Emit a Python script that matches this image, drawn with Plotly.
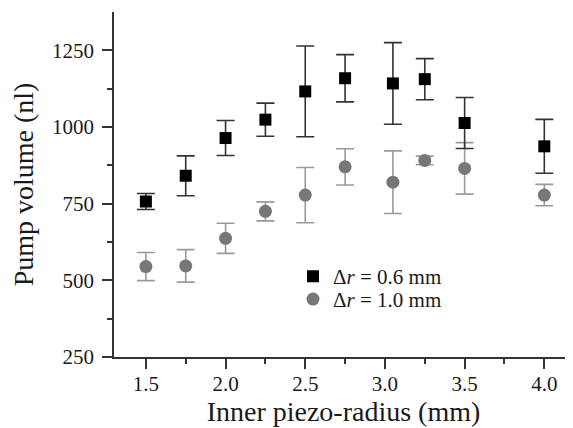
import plotly.graph_objects as go

radius = [1.5, 1.75, 2.0, 2.25, 2.5, 2.75, 3.05, 3.25, 3.5, 4.0]
vol_06 = [757, 841, 964, 1024, 1116, 1159, 1142, 1156, 1013, 937]
err_06 = [26, 65, 57, 54, 148, 77, 133, 67, 83, 88]
vol_10 = [545, 547, 637, 725, 778, 870, 820, 891, 865, 778]
err_10 = [46, 53, 49, 31, 90, 59, 102, 14, 84, 35]
name_06 = "Δ<i>r</i> = 0.6 mm"
name_10 = "Δ<i>r</i> = 1.0 mm"
x_ticks = [1.5, 2.0, 2.5, 3.0, 3.5, 4.0]
x_ticklabels = ["1.5", "2.0", "2.5", "3.0", "3.5", "4.0"]
y_ticks = [250, 500, 750, 1000, 1250]

FONT = "Liberation Serif"
AX = "#333333"

fig = go.Figure()
fig.add_trace(go.Scatter(
    x=radius, y=vol_10, mode="markers", name=name_10, legend="legend2",
    marker=dict(symbol="circle", size=13, color="#777777"),
    error_y=dict(type="data", array=err_10, visible=True, color="#9a9a9a",
                 thickness=1.6, width=9),
))
fig.add_trace(go.Scatter(
    x=radius, y=vol_06, mode="markers", name=name_06, legend="legend",
    marker=dict(symbol="square", size=12, color="#000000"),
    error_y=dict(type="data", array=err_06, visible=True, color="#333333",
                 thickness=1.6, width=9),
))

xr = [1.3, 4.18]
yr = [250, 1375]
# the page body adds an 8px offset, so the figure is 8px smaller than the window
fig.update_layout(
    width=565, height=420,
    margin=dict(l=106, r=0, t=4, b=71),
    paper_bgcolor="white", plot_bgcolor="white",
    font=dict(family=FONT, size=21, color="#1a1a1a"),
    showlegend=True,
    legend=dict(x=0.390, y=0.233, xanchor="left", yanchor="middle",
                bgcolor="rgba(0,0,0,0)", font=dict(size=21)),
    legend2=dict(x=0.390, y=0.167, xanchor="left", yanchor="middle",
                 bgcolor="rgba(0,0,0,0)", font=dict(size=21)),
    xaxis=dict(
        range=xr, tickvals=x_ticks, ticktext=x_ticklabels,
        ticks="outside", ticklen=10, tickwidth=1.5, tickcolor=AX,
        showline=True, linecolor=AX, linewidth=1.5, showgrid=False, zeroline=False,
        minor=dict(tickvals=[1.75, 2.25, 2.75, 3.25, 3.75], ticks="outside",
                   ticklen=5, tickwidth=1.5, tickcolor=AX),
        title=dict(text="Inner piezo-radius (mm)", font=dict(size=28), standoff=1),
        tickfont=dict(size=21), ticklabelstandoff=-3,
    ),
    yaxis=dict(
        range=yr, tickvals=y_ticks,
        ticks="outside", ticklen=10, tickwidth=1.5, tickcolor=AX,
        showline=True, linecolor=AX, linewidth=1.5, showgrid=False, zeroline=False,
        minor=dict(tickvals=[375, 625, 875, 1125], ticks="outside",
                   ticklen=5, tickwidth=1.5, tickcolor=AX),
        title=dict(text="Pump volume (nl)", font=dict(size=28), standoff=14),
        tickfont=dict(size=21), ticklabelstandoff=4,
    ),
    xaxis2=dict(
        overlaying="x", side="top", anchor="y", range=xr, matches="x",
        tickvals=[1.5, 1.75, 2.0, 2.25, 2.5, 2.75, 3.0, 3.25, 3.5, 3.75, 4.0],
        ticks="inside", ticklen=8, tickwidth=1.5, tickcolor=AX,
        showticklabels=False, showline=True, linecolor=AX, linewidth=1.5,
        showgrid=False, zeroline=False,
    ),
    yaxis2=dict(
        overlaying="y", side="right", anchor="x", range=yr, matches="y",
        tickvals=y_ticks, ticks="inside", ticklen=8, tickwidth=1.5, tickcolor=AX,
        showticklabels=False, showline=False, showgrid=False, zeroline=False,
        minor=dict(tickvals=[375, 625, 875, 1125], ticks="inside",
                   ticklen=5, tickwidth=1.5, tickcolor=AX),
    ),
)
fig.write_html("out.html")
